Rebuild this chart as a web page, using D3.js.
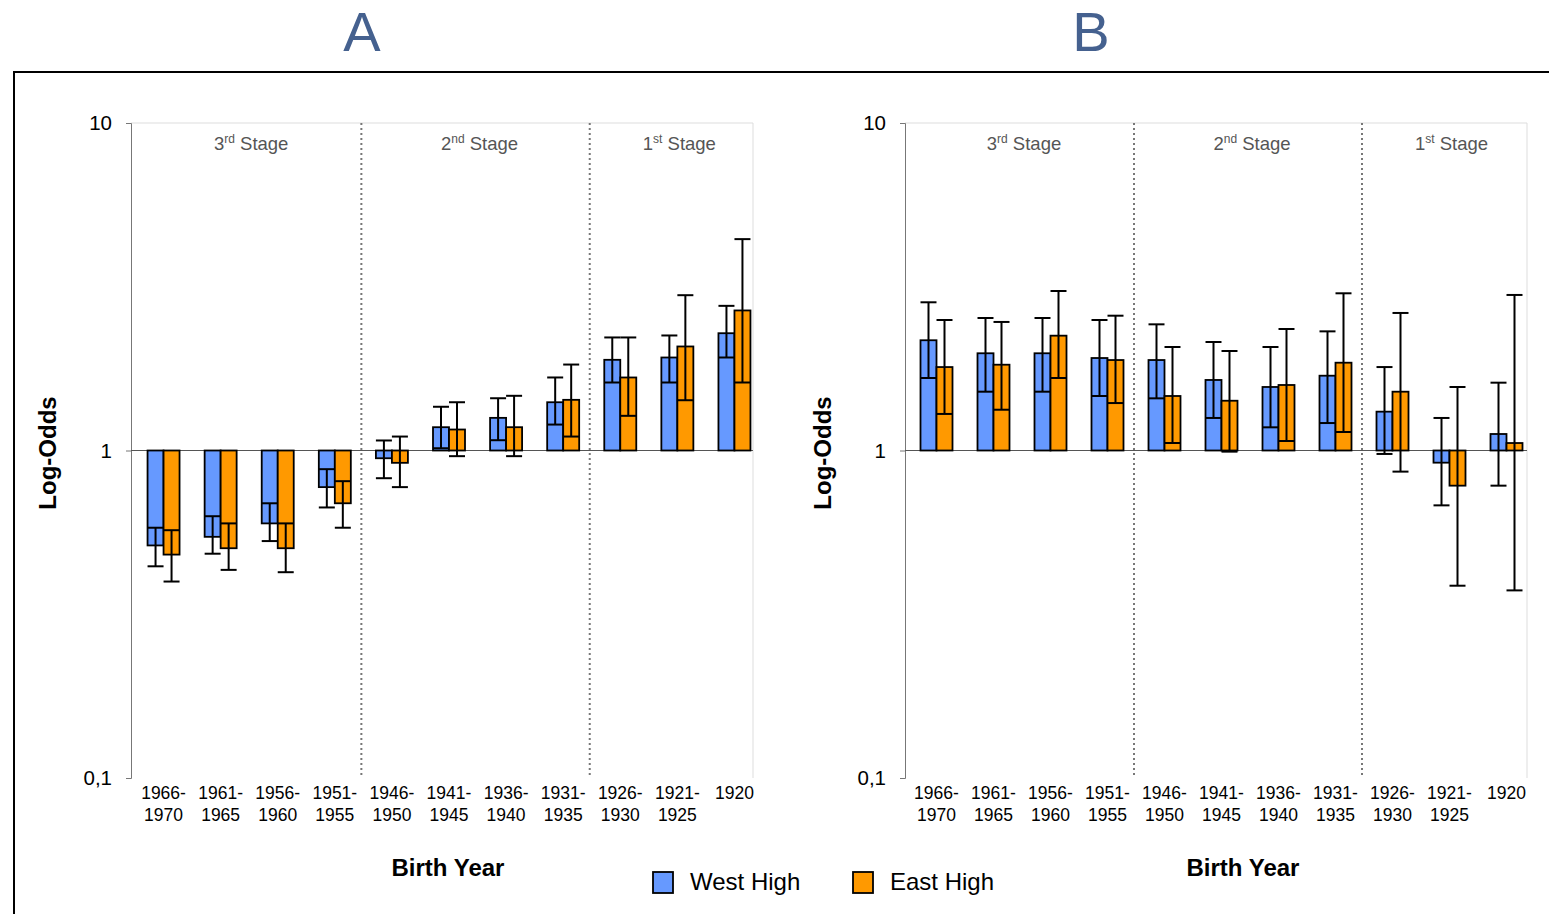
<!DOCTYPE html>
<html>
<head>
<meta charset="utf-8">
<script src="https://cdn.jsdelivr.net/npm/d3@7"></script>
<style>
  body { margin: 0; background: #fff; }
  text { font-family: "Liberation Sans", Arial, sans-serif; }
</style>
</head>
<body>
<script>
// birth-year cohorts (two-line labels)
const cohorts = ["1966-1970", "1961-1965", "1956-1960", "1951-1955", "1946-1950", "1941-1945",
                 "1936-1940", "1931-1935", "1926-1930", "1921-1925", "1920"];
const stages = [
    { num: "3", sup: "rd", from: 0, to: 3 },
    { num: "2", sup: "nd", from: 4, to: 7 },
    { num: "1", sup: "st", from: 8, to: 10 }
];
const yTicks = [0.1, 1, 10];
const seriesNames = ["West High", "East High"];
const seriesColors = ["#6699ff", "#ff9900"];

// panel A
const aWest   = [0.513, 0.545, 0.599, 0.773, 0.947, 1.178, 1.258, 1.404, 1.892, 1.923, 2.281];
const aWestLo = [0.443, 0.484, 0.529, 0.670, 0.823, 1.016, 1.075, 1.200, 1.613, 1.613, 1.923];
const aWestHi = [0.581, 0.630, 0.690, 0.877, 1.073, 1.360, 1.444, 1.671, 2.214, 2.245, 2.765];
const aEast   = [0.481, 0.503, 0.503, 0.690, 0.917, 1.159, 1.178, 1.428, 1.671, 2.078, 2.677];
const aEastLo = [0.398, 0.432, 0.425, 0.581, 0.773, 0.961, 0.961, 1.103, 1.276, 1.424, 1.613];
const aEastHi = [0.571, 0.599, 0.599, 0.806, 1.103, 1.404, 1.469, 1.830, 2.214, 2.980, 4.420];

// panel B
const bWest   = [2.171, 1.981, 1.981, 1.916, 1.889, 1.642, 1.563, 1.692, 1.314, 0.918, 1.123];
const bWestLo = [1.665, 1.512, 1.512, 1.467, 1.443, 1.257, 1.177, 1.213, 0.976, 0.680, 0.781];
const bWestHi = [2.835, 2.539, 2.539, 2.503, 2.428, 2.144, 2.070, 2.311, 1.798, 1.257, 1.611];
const bEast   = [1.798, 1.828, 2.242, 1.889, 1.467, 1.419, 1.585, 1.854, 1.512, 0.781, 1.054];
const bEastLo = [1.293, 1.332, 1.665, 1.396, 1.054, 0.992, 1.069, 1.139, 0.862, 0.3865, 0.374];
const bEastHi = [2.503, 2.469, 3.069, 2.580, 2.070, 2.013, 2.350, 3.020, 2.630, 1.563, 2.985];

const panels = [
    { title: "A", titleX: 362, axisX: 131, right: 753, bandRange: [135, 763],
      series: [[aWest, aWestLo, aWestHi], [aEast, aEastLo, aEastHi]], xTitle: 448, yTitle: 48 },
    { title: "B", titleX: 1091, axisX: 905, right: 1527, bandRange: [908, 1535],
      series: [[bWest, bWestLo, bWestHi], [bEast, bEastLo, bEastHi]], xTitle: 1243, yTitle: 823 }
];

const W = 1549, H = 914;
const plotTop = 123, plotBottom = 778;
const barW = 16;

const svg = d3.select("body").append("svg")
    .attr("width", W)
    .attr("height", H);

// outer frame lines
svg.append("line").attr("x1", 13).attr("x2", W).attr("y1", 72).attr("y2", 72)
    .attr("stroke", "#000").attr("stroke-width", 2);
svg.append("line").attr("x1", 14).attr("x2", 14).attr("y1", 72).attr("y2", H)
    .attr("stroke", "#000").attr("stroke-width", 2);

const y = d3.scaleLog().domain([0.1, 10]).range([plotBottom, plotTop]);

panels.forEach(p => {
    const x = d3.scaleBand().domain(cohorts).range(p.bandRange).padding(0);
    const x1 = d3.scaleBand().domain(seriesNames).range([-barW, barW]).padding(0);
    const center = c => x(c) + x.bandwidth() / 2;

    const g = svg.append("g");

    // title letter
    svg.append("text")
        .attr("x", p.titleX).attr("y", 51)
        .attr("text-anchor", "middle")
        .attr("font-size", 56)
        .attr("fill", "#45618f")
        .text(p.title);

    // plot border (top / right)
    g.append("line").attr("x1", p.axisX).attr("x2", p.right).attr("y1", plotTop).attr("y2", plotTop)
        .attr("stroke", "#ddd");
    g.append("line").attr("x1", p.right).attr("x2", p.right).attr("y1", plotTop).attr("y2", plotBottom)
        .attr("stroke", "#ddd");

    // stage dividers
    [4, 8].forEach(i => {
        const xx = x(cohorts[i]) - 2;
        g.append("line").attr("x1", xx).attr("x2", xx).attr("y1", plotTop).attr("y2", plotBottom)
            .attr("stroke", "#777").attr("stroke-width", 2).attr("stroke-dasharray", "2,3");
    });

    // stage labels
    stages.forEach(s => {
        const cx = (center(cohorts[s.from]) + center(cohorts[s.to])) / 2 + 2;
        const t = g.append("text")
            .attr("x", cx).attr("y", 150)
            .attr("text-anchor", "middle")
            .attr("font-size", 18.5)
            .attr("fill", "#555");
        t.append("tspan").text(s.num);
        t.append("tspan").attr("font-size", 12).attr("dy", -7).text(s.sup);
        t.append("tspan").attr("dy", 7).text(" Stage");
    });

    // y axis
    const yAxis = g.append("g")
        .attr("transform", `translate(${p.axisX},0)`)
        .call(d3.axisLeft(y).tickValues(yTicks).tickSize(5).tickPadding(14)
            .tickFormat(d => d === 0.1 ? "0,1" : d3.format("d")(d)));
    yAxis.select(".domain").attr("stroke", "#777");
    yAxis.selectAll(".tick line").attr("stroke", "#777");
    yAxis.selectAll("text").attr("font-size", 20.5).attr("fill", "#000")
        .attr("font-family", "Liberation Sans, Arial, sans-serif");

    // baseline at 1
    g.append("line").attr("x1", p.axisX).attr("x2", p.right).attr("y1", y(1)).attr("y2", y(1))
        .attr("stroke", "#555").attr("stroke-width", 1.2);

    // bars and error bars
    p.series.forEach((s, si) => {
        const [vals, lo, hi] = s;
        const name = seriesNames[si];
        const sg = g.append("g");
        sg.selectAll("rect")
            .data(cohorts)
            .enter()
            .append("rect")
            .attr("x", (c, i) => center(c) + x1(name))
            .attr("y", (c, i) => Math.min(y(vals[i]), y(1)))
            .attr("width", barW)
            .attr("height", (c, i) => Math.abs(y(vals[i]) - y(1)))
            .attr("fill", seriesColors[si])
            .attr("stroke", "#000")
            .attr("stroke-width", 1.8);

        const eg = sg.selectAll(".err")
            .data(cohorts)
            .enter()
            .append("g")
            .attr("class", "err")
            .attr("stroke", "#000")
            .attr("stroke-width", 2);
        const bx = c => center(c) + x1(name) + barW / 2;
        eg.append("line")
            .attr("x1", bx).attr("x2", bx)
            .attr("y1", (c, i) => y(lo[i])).attr("y2", (c, i) => y(hi[i]));
        eg.append("line")
            .attr("x1", c => bx(c) - barW / 2).attr("x2", c => bx(c) + barW / 2)
            .attr("y1", (c, i) => y(lo[i])).attr("y2", (c, i) => y(lo[i]));
        eg.append("line")
            .attr("x1", c => bx(c) - barW / 2).attr("x2", c => bx(c) + barW / 2)
            .attr("y1", (c, i) => y(hi[i])).attr("y2", (c, i) => y(hi[i]));
    });

    // x labels
    cohorts.forEach(c => {
        const parts = c.split("-");
        const t = g.append("text")
            .attr("x", center(c)).attr("y", 799)
            .attr("text-anchor", "middle")
            .attr("font-size", 17.5)
            .attr("fill", "#000");
        if (parts.length === 2) {
            t.append("tspan").attr("x", center(c)).text(parts[0] + "-");
            t.append("tspan").attr("x", center(c)).attr("dy", 22).text(parts[1]);
        } else {
            t.text(c);
        }
    });

    // axis titles
    g.append("text")
        .attr("x", p.xTitle).attr("y", 876)
        .attr("text-anchor", "middle")
        .attr("font-size", 24).attr("font-weight", "bold")
        .text("Birth Year");
    g.append("text")
        .attr("transform", `translate(${p.yTitle + 8},453) rotate(-90)`)
        .attr("text-anchor", "middle")
        .attr("font-size", 24).attr("font-weight", "bold")
        .text("Log-Odds");
});

// legend
const legendX = [653, 853];
seriesNames.forEach((n, i) => {
    svg.append("rect")
        .attr("x", legendX[i]).attr("y", 872)
        .attr("width", 20).attr("height", 21)
        .attr("fill", seriesColors[i])
        .attr("stroke", "#000").attr("stroke-width", 1.8);
    svg.append("text")
        .attr("x", legendX[i] + 37).attr("y", 890)
        .attr("font-size", 24)
        .text(n);
});
</script>
</body>
</html>
